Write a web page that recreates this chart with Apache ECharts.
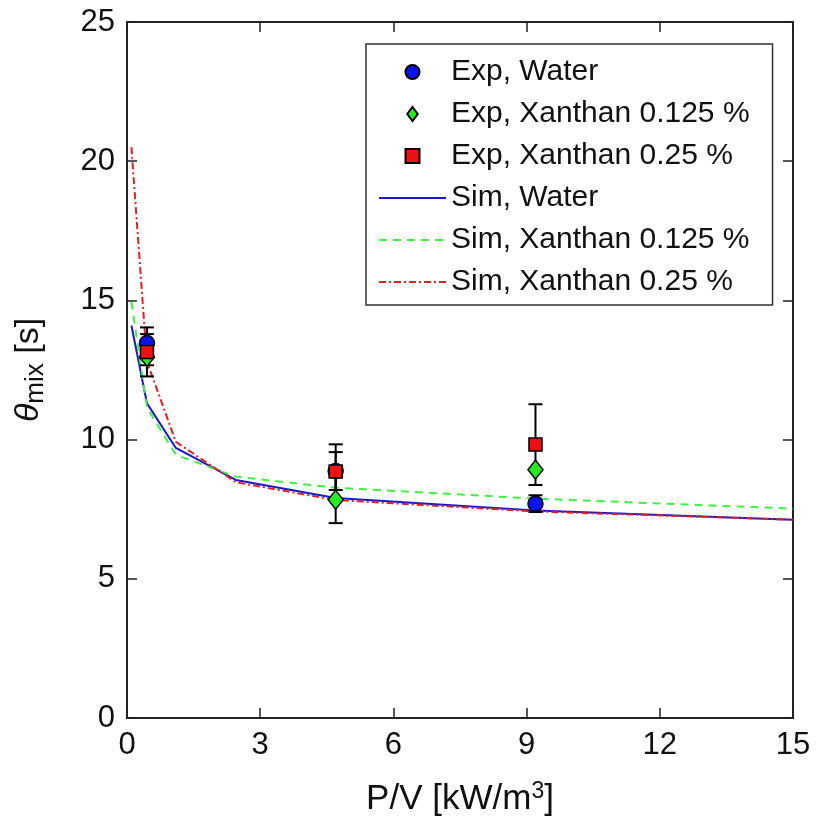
<!DOCTYPE html>
<html><head><meta charset="utf-8">
<script src="https://cdn.jsdelivr.net/npm/echarts@6/dist/echarts.min.js"></script>
<style>html,body{margin:0;padding:0;background:#fff}#c{width:816px;height:830px}</style>
</head><body><div id="c"></div>
<script>
// Experimental data
const expX = [0.45, 4.7, 9.2];
const expWater = [13.47, 8.87, 7.7];
const expWaterErr = [0.32, 0.68, 0.3];
const expX0125 = [12.97, 7.84, 8.92];
const expX0125Err = [0.3, 0.84, 0];
const expX025 = [13.15, 8.85, 9.82];
const expX025Err = [0.88, 0.98, 1.45];
// Simulation data
const simX = [0.1, 0.45, 1.1, 2.45, 4.7, 9.2, 15];
const simWater = [14.1, 11.3, 9.7, 8.55, 7.9, 7.45, 7.12];
const simX0125 = [14.95, 11.15, 9.45, 8.67, 8.27, 7.88, 7.52];
const simX025 = [20.5, 12.8, 9.92, 8.47, 7.83, 7.42, 7.12];
const xTicks = [0, 3, 6, 9, 12, 15];
const yTicks = [0, 5, 10, 15, 20, 25];

const names = ['Exp, Water', 'Exp, Xanthan 0.125 %', 'Exp, Xanthan 0.25 %',
  'Sim, Water', 'Sim, Xanthan 0.125 %', 'Sim, Xanthan 0.25 %'];

function pairs(xs, ys) { return xs.map((x, i) => [x, ys[i]]); }
function errData(xs, ys, es) { return xs.map((x, i) => [x, ys[i] - es[i], ys[i] + es[i]]); }

function errSeries(name, data) {
  return {
    type: 'custom', name: name, data: data, z: 3,
    renderItem: function (params, api) {
      const x = api.value(0);
      const lo = api.coord([x, api.value(1)]);
      const hi = api.coord([x, api.value(2)]);
      const w = 7;
      const st = { stroke: '#000', lineWidth: 2 };
      return { type: 'group', children: [
        { type: 'line', shape: { x1: lo[0], y1: lo[1], x2: hi[0], y2: hi[1] }, style: st },
        { type: 'line', shape: { x1: lo[0] - w, y1: lo[1], x2: lo[0] + w, y2: lo[1] }, style: st },
        { type: 'line', shape: { x1: hi[0] - w, y1: hi[1], x2: hi[0] + w, y2: hi[1] }, style: st }
      ]};
    }
  };
}

const font = 'Liberation Sans, Arial, sans-serif';
const axisLine = { show: true, onZero: false, lineStyle: { color: '#222', width: 2 } };
const tick = { show: true, inside: true, length: 10, lineStyle: { color: '#222', width: 1.5 } };
const hideSym = { color: 'rgba(0,0,0,0)', borderColor: 'rgba(0,0,0,0)', borderWidth: 0, opacity: 0 };
const chart = echarts.init(document.getElementById('c'));
chart.setOption({
  animation: false,
  backgroundColor: '#fff',
  grid: { left: 127, right: 23, top: 22, bottom: 112 },
  legend: {
    data: [
      { name: names[0], icon: 'path://M10,0A10,10,0,1,1,9.99,0Z' },
      { name: names[1], icon: 'path://M6,0L12,8L6,16L0,8Z' },
      { name: names[2], icon: 'path://M0,0L10,0L10,10L0,10Z' },
      { name: names[3], itemStyle: hideSym },
      { name: names[4], itemStyle: hideSym },
      { name: names[5], itemStyle: hideSym }
    ],
    orient: 'vertical', left: 366, top: 44,
    padding: [13, 23, 8, 12],
    itemGap: 12, itemWidth: 67, itemHeight: 14, symbolKeepAspect: true,
    borderColor: '#333', borderWidth: 1.5,
    backgroundColor: '#fff',
    textStyle: { fontSize: 30, lineHeight: 30, fontFamily: font, color: '#111' }
  },
  xAxis: [{
    type: 'value', min: 0, max: 15, interval: 3,
    axisLine: axisLine, axisTick: tick,
    axisLabel: { fontSize: 31, fontFamily: font, color: '#111', margin: 12 },
    splitLine: { show: false },
    name: '{a|P/V [kW/m}{s|3}{a|]}', nameLocation: 'middle', nameGap: 62,
    nameTextStyle: { rich: { a: { fontSize: 35, fontFamily: font, color: '#111' },
      s: { fontSize: 23, fontFamily: font, color: '#111', verticalAlign: 'top', padding: [0, 0, 16, 0] } } }
  }, {
    type: 'value', min: 0, max: 15, interval: 3, position: 'top',
    axisLine: axisLine, axisTick: tick,
    axisLabel: { show: false }, splitLine: { show: false }
  }],
  yAxis: [{
    type: 'value', min: 0, max: 25, interval: 5,
    axisLine: axisLine, axisTick: tick,
    axisLabel: { fontSize: 31, fontFamily: font, color: '#111', margin: 12 },
    splitLine: { show: false },
    name: '{t|θ}{s|mix}{a| [s]}', nameLocation: 'middle', nameGap: 78, nameRotate: 90,
    nameTextStyle: { rich: {
      t: { fontSize: 34, fontFamily: font, fontStyle: 'italic', color: '#111' },
      s: { fontSize: 26, fontFamily: font, color: '#111', verticalAlign: 'bottom', padding: [15, 0, 0, 0] },
      a: { fontSize: 34, fontFamily: font, color: '#111' } } }
  }, {
    type: 'value', min: 0, max: 25, interval: 5, position: 'right',
    axisLine: axisLine, axisTick: tick,
    axisLabel: { show: false }, splitLine: { show: false }
  }],
  series: [
    { type: 'line', name: names[3], data: pairs(simX, simWater), symbol: 'none', z: 2,
      lineStyle: { color: '#1a1acc', width: 2, type: 'solid' }, itemStyle: { color: '#1a1acc' } },
    { type: 'line', name: names[4], data: pairs(simX, simX0125), symbol: 'none', z: 2,
      lineStyle: { color: '#44ee44', width: 2, type: [8, 6] }, itemStyle: { color: '#44ee44' } },
    { type: 'line', name: names[5], data: pairs(simX, simX025), symbol: 'none', z: 2,
      lineStyle: { color: '#dd2222', width: 2, type: [7, 3, 2, 3] }, itemStyle: { color: '#dd2222' } },
    errSeries('errW', errData(expX, expWater, expWaterErr)),
    errSeries('errG', errData(expX, expX0125, expX0125Err)),
    errSeries('errR', errData(expX, expX025, expX025Err)),
    { type: 'scatter', name: names[0], data: pairs(expX, expWater), symbol: 'circle', symbolSize: 15, z: 4,
      itemStyle: { color: '#0a12ee', borderColor: '#000', borderWidth: 1.5, opacity: 1 } },
    { type: 'scatter', name: names[1], data: pairs(expX, expX0125), symbol: 'diamond', symbolSize: [15, 19], z: 4,
      itemStyle: { color: '#22ee22', borderColor: '#000', borderWidth: 1.5, opacity: 1 } },
    { type: 'scatter', name: names[2], data: pairs(expX, expX025), symbol: 'rect', symbolSize: 13, z: 5,
      itemStyle: { color: '#ee1111', borderColor: '#000', borderWidth: 1.5, opacity: 1 } }
  ]
});
</script></body></html>
